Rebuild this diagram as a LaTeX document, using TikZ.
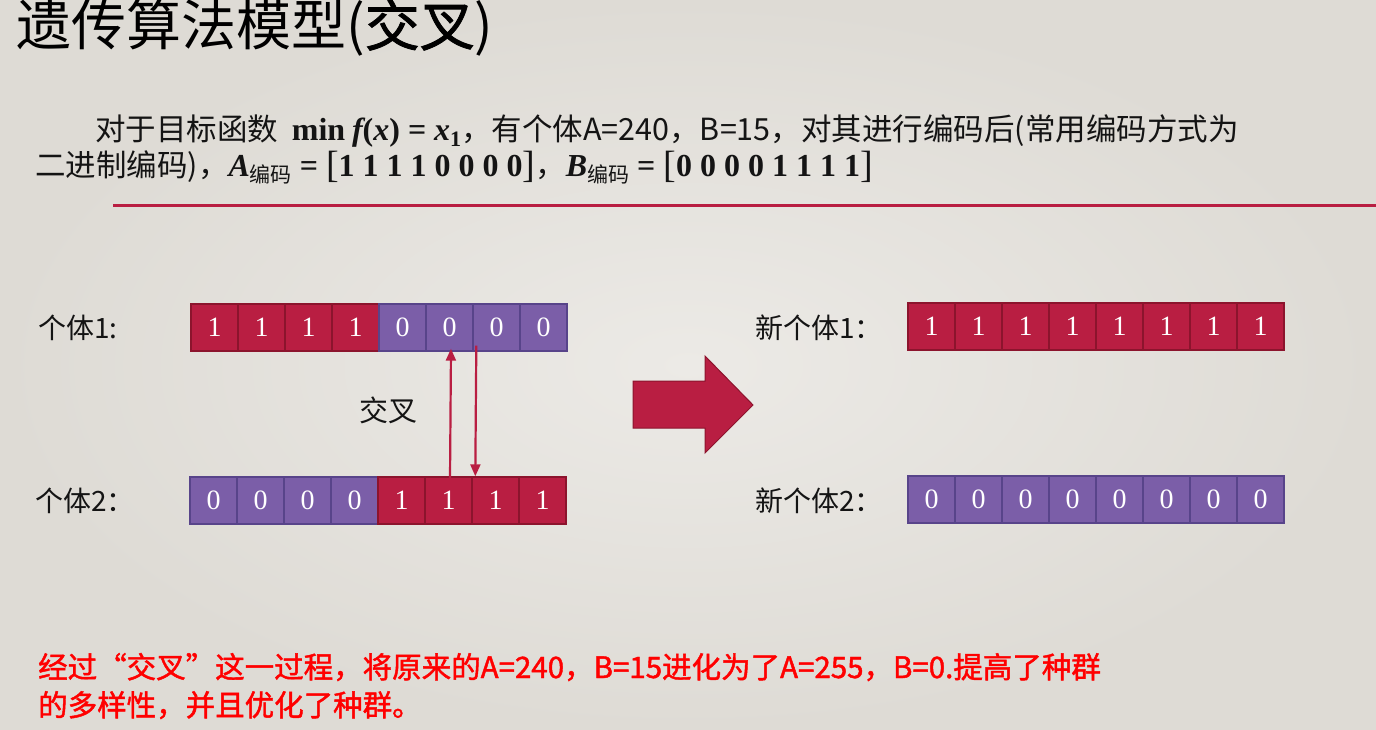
\documentclass[tikz,border=0pt]{standalone}
\usepackage{fontspec}
\setmainfont{Noto Sans CJK SC}
\newfontfamily\cjk{Noto Sans CJK SC}
\newfontfamily\cjkbold[FakeBold=1.5]{Noto Sans CJK SC}
\newfontfamily\digitfont{Liberation Serif}
\newfontfamily\mb{Liberation Serif}
\usetikzlibrary{arrows.meta}
\definecolor{gred}{RGB}{185,30,66}
\definecolor{gredd}{RGB}{140,20,45}
\definecolor{gpur}{RGB}{123,94,168}
\definecolor{gpurd}{RGB}{88,68,138}
\definecolor{bgin}{RGB}{236,234,230}
\definecolor{bgout}{RGB}{222,219,213}
\definecolor{txt}{RGB}{20,20,20}
\newcommand{\mbf}[1]{{\mb\bfseries\fontsize{32}{34}\selectfont #1}}
\newcommand{\mbi}[1]{{\mb\bfseries\itshape\fontsize{32}{34}\selectfont #1}}
\newcommand{\brk}[1]{{\mb\fontsize{38}{40}\selectfont\raisebox{-1pt}{#1}}}
\newcommand{\enc}{\raisebox{-6pt}{\cjk\fontsize{21}{22}\selectfont 编码}}
\tikzset{
  cell/.style={draw, minimum width=47pt, minimum height=47pt, inner sep=0pt, line width=1.4pt,
    text=white, font=\digitfont\fontsize{28}{30}\selectfont},
  rc/.style={cell, fill=gred, draw=gredd},
  pc/.style={cell, fill=gpur, draw=gpurd},
  lbl/.style={anchor=base west, inner sep=0pt, text=txt, font=\cjk\fontsize{28}{30}\selectfont},
  para/.style={anchor=base west, inner sep=0pt, text=txt, font=\cjk\fontsize{30.5}{33}\selectfont},
  note/.style={anchor=base west, inner sep=0pt, text=red, font=\cjkbold\fontsize{29.5}{32}\selectfont},
  xarrow/.style={draw=gred, line width=2.2pt, -{Triangle[length=12pt,width=10pt]}}
}
\begin{document}
\begin{tikzpicture}[x=1pt, y=-1pt]
\useasboundingbox (0,0) rectangle (1376,730);
\shade[inner color=bgin, outer color=bgout] (0,0) rectangle (1376,730);
% title
\node[anchor=base west, inner sep=0pt, text=black, font=\cjk\fontsize{55}{58}\selectfont] (title) at (16,46) {遗传算法模型({\cjkbold 交叉})};
% paragraph
\node[para] (p1) at (95,141) {对于目标函数 \ \mbf{min} \mbi{f}\mbf{(}\mbi{x}\mbf{) = }\mbi{x}\raisebox{-6pt}{\mbf{\fontsize{22}{24}\selectfont 1}}，有个体A=240，B=15，对其进行编码后(常用编码方式为};
\node[para] (p2) at (35,177) {二进制编码)，\mbi{A}\enc\hspace{8pt}\mbf{=}\hspace{8pt}\brk{[}\mbf{1 1 1 1 0 0 0 0}\brk{]}，\mbi{B}\enc\hspace{8pt}\mbf{=}\hspace{8pt}\brk{[}\mbf{0 0 0 0 1 1 1 1}\brk{]}};
% red rule
\coordinate (r1) at (113,206);
\coordinate (r2) at (1376,206);
\draw[gred, line width=3pt] (r1) -- (r2);
% labels
\node[lbl] (l1) at (38,338) {个体1:};
\node[lbl] (l2) at (35,511) {个体2：};
\node[lbl] (l3) at (755,338) {新个体1：};
\node[lbl] (l4) at (755,511) {新个体2：};
% rows
\foreach \v/\s [count=\i] in {1/rc,1/rc,1/rc,1/rc,0/pc,0/pc,0/pc,0/pc}
  \node[\s] (a\i) at ({191+23.5+47*(\i-1)},327.5) {\v};
\foreach \v/\s [count=\i] in {0/pc,0/pc,0/pc,0/pc,1/rc,1/rc,1/rc,1/rc}
  \node[\s] (b\i) at ({190+23.5+47*(\i-1)},500.5) {\v};
\foreach \i in {1,...,8}
  \node[rc] (c\i) at ({908+23.5+47*(\i-1)},326.5) {1};
\foreach \i in {1,...,8}
  \node[pc] (d\i) at ({908+23.5+47*(\i-1)},499.5) {0};
% crossover arrows
\draw[xarrow] ([xshift=1.5pt,yshift=-3pt]b6.north) -- ([xshift=1.5pt,yshift=3pt]a6.south);
\draw[xarrow] ([xshift=4pt,yshift=6pt]a7.south west) -- ([xshift=4pt]b7.north west);
\node[lbl, font=\cjk\fontsize{29}{32}\selectfont] (cx) at (359,421) {交叉};
% big arrow
\draw[fill=gred, draw=gredd, line width=1pt, line join=miter]
  (633,381) -- (705,381) -- (705,356) -- (753,405) -- (705,453) -- (705,428) -- (633,428) -- cycle;
% note
\node[note] (n1) at (38,678) {经过“交叉”这一过程，将原来的A=240，B=15进化为了A=255，B=0.提高了种群};
\node[note] (n2) at (38,716) {的多样性，并且优化了种群。};
\end{tikzpicture}
\end{document}
